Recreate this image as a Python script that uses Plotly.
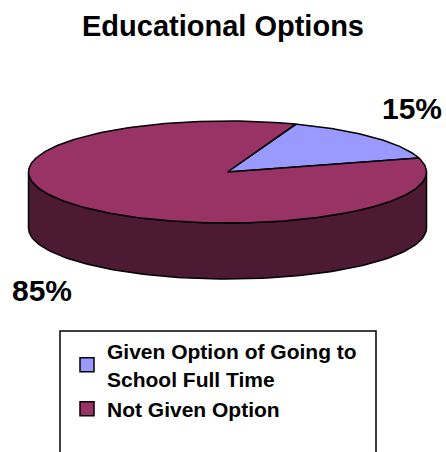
import numpy as np
import plotly.graph_objects as go

# ---- data ----
categories = ["Given Option of Going to<br>School Full Time", "Not Given Option"]
values = [15, 85]
top_colors = ["#9999FF", "#993366"]
side_colors = ["#4D4D80", "#4C1A33"]

# ---- 3D pie geometry (pixel space) ----
W, H = 446, 452
cx, cy = 227.5, 172.0      # centre of top face
rx, ry = 199.0, 51.0       # ellipse radii of top face
depth = 56.0               # thickness of the pie
start_deg = 20.0           # first slice starts 20 deg clockwise from 12 o'clock


def ell(phi_deg, dy=0.0):
    p = np.radians(phi_deg)
    return cx + rx * np.sin(p), cy - ry * np.cos(p) + dy


fig = go.Figure()

total = float(sum(values))
bounds = []
a = start_deg
for v in values:
    b = a + 360.0 * v / total
    bounds.append((a, b))
    a = b

# side walls (only the front half, 90..270 deg, is visible)
for (a0, a1), col in zip(bounds, side_colors):
    for shift in (0.0, 360.0, -360.0):
        lo = max(a0 + shift, 90.0)
        hi = min(a1 + shift, 270.0)
        if hi <= lo:
            continue
        ph = np.linspace(lo, hi, 120)
        xt, yt = ell(ph)
        xb, yb = ell(ph[::-1], depth)
        xs = np.concatenate([xt, xb, xt[:1]])
        ys = np.concatenate([yt, yb, yt[:1]])
        fig.add_trace(go.Scatter(
            x=xs, y=ys, mode="lines", fill="toself", fillcolor=col,
            line=dict(color="black", width=1.5), hoverinfo="skip",
            showlegend=False))

# top faces
for (a0, a1), col in zip(bounds, top_colors):
    ph = np.linspace(a0, a1, 240)
    xe, ye = ell(ph)
    xs = np.concatenate([[cx], xe, [cx]])
    ys = np.concatenate([[cy], ye, [cy]])
    fig.add_trace(go.Scatter(
        x=xs, y=ys, mode="lines", fill="toself", fillcolor=col,
        line=dict(color="black", width=1.5), hoverinfo="skip",
        showlegend=False))

# legend entries
for name, col in zip(categories, top_colors):
    fig.add_trace(go.Scatter(
        x=[None], y=[None], mode="markers", name=name,
        marker=dict(symbol="square", size=14, color=col,
                    line=dict(color="black", width=1.5))))

# percentage labels
label_pos = [(412, 108), (42, 290)]
for v, (lx, ly) in zip(values, label_pos):
    fig.add_annotation(x=lx, y=ly, xref="x", yref="y", text=f"{v}%",
                       showarrow=False,
                       font=dict(family="Liberation Sans, Arial", size=30,
                                 color="black", weight="bold"))

# legend frame (runs past the bottom edge)
fig.add_shape(type="rect", xref="x", yref="y", x0=60, x1=376, y0=331, y1=470,
              line=dict(color="black", width=1.5), fillcolor="rgba(0,0,0,0)")

fig.update_layout(
    width=W, height=H,
    margin=dict(l=0, r=0, t=0, b=0),
    paper_bgcolor="white", plot_bgcolor="white",
    title=dict(text="<b>Educational Options</b>", x=0.5, xanchor="center",
               y=1 - 26 / H, yanchor="middle",
               font=dict(family="Liberation Sans, Arial", size=29,
                         color="black")),
    xaxis=dict(range=[0, W], visible=False, fixedrange=True),
    yaxis=dict(range=[H, 0], visible=False, fixedrange=True),
    showlegend=True,
    legend=dict(x=67 / W, y=1 - 331 / H, xanchor="left", yanchor="top",
                bgcolor="rgba(0,0,0,0)", borderwidth=0,
                font=dict(family="Liberation Sans, Arial", size=21,
                          color="black", weight="bold"),
                tracegroupgap=0, itemclick=False, itemdoubleclick=False),
)

fig.write_html("out.html")
